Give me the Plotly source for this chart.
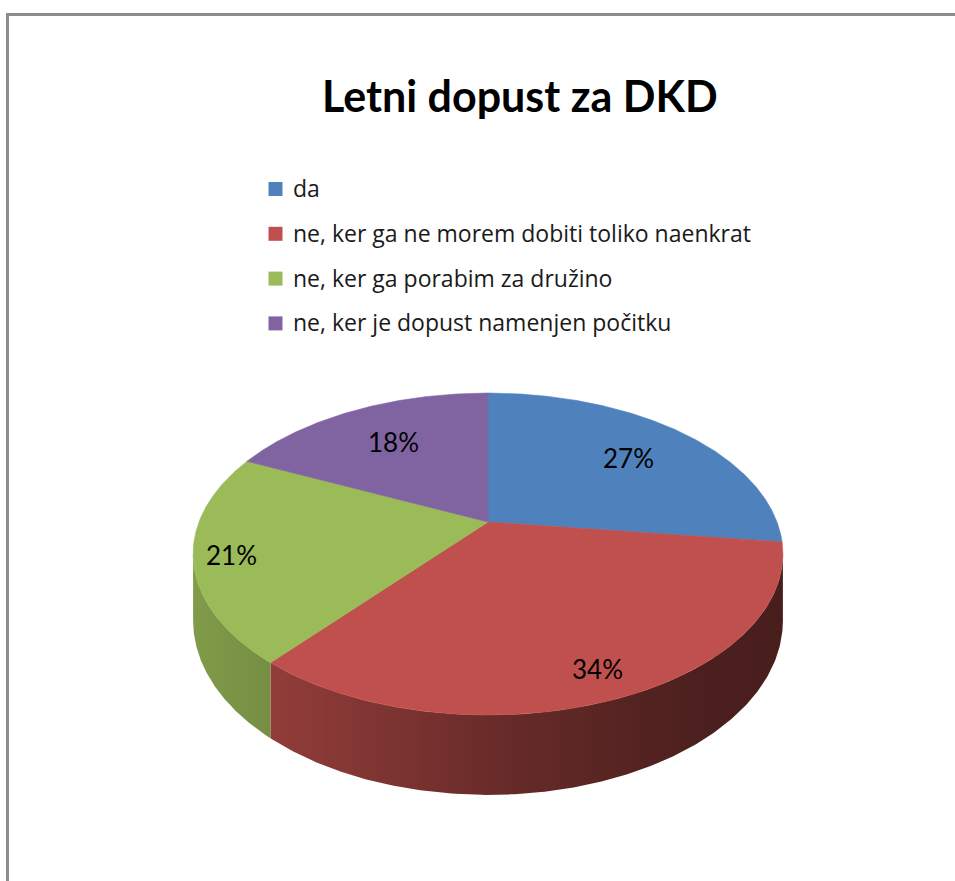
import numpy as np
import plotly.graph_objects as go

# ---------------- data ----------------
TITLE = "Letni dopust za DKD"
CATEGORIES = [
    "da",
    "ne, ker ga ne morem dobiti toliko naenkrat",
    "ne, ker ga porabim za družino",
    "ne, ker je dopust namenjen počitku",
]
VALUES = [27, 34, 21, 18]
COLORS = ["#4F81BD", "#C0504D", "#9BBB59", "#8064A2"]

# ---------------- geometry / style ----------------
W, H = 955, 881
CX, CY = 488, 522          # pie apex (pixels)
SX, SY = 289, 154.6        # projected radii
K = 0.199                  # perspective factor
DEPTH = 64                 # extrusion depth
LABEL_R = [0.70, 0.85, 0.88, 0.70]
LABEL_FONT = "Lato, Roboto, sans-serif"
TITLE_FONT = "Lato, Roboto, sans-serif"
LEG_FONT = "Open Sans, Noto Sans, sans-serif"


def project(theta, f=1.0, dz=0.0):
    u = f * np.sin(theta)
    v = f * np.cos(theta)
    w = 1 + K * v
    return CX + SX * u / w, CY - SY * v / w + dz / w


def shade(hex_color, t_factors):
    r, g, b = (int(hex_color[i:i + 2], 16) for i in (1, 3, 5))
    return [[t, f"rgb({int(r*fc)},{int(g*fc)},{int(b*fc)})"] for t, fc in t_factors]


SHADE = [(0.0, 0.83), (0.15, 0.75), (0.55, 0.53), (0.85, 0.40), (1.0, 0.38)]

fig = go.Figure()

total = float(sum(VALUES))
bounds = np.concatenate([[0], np.cumsum(VALUES) / total]) * 2 * np.pi

# visible front rim interval
th_lo = np.arccos(-K)
th_hi = 2 * np.pi - np.arccos(-K)
x_left = project(th_hi)[0]
x_right = project(th_lo)[0]

# sides
for i, val in enumerate(VALUES):
    a, b = max(bounds[i], th_lo), min(bounds[i + 1], th_hi)
    if b <= a:
        continue
    th = np.linspace(a, b, 200)
    tx, ty = project(th)
    bx, by = project(th, dz=DEPTH)
    xs = np.concatenate([tx, bx[::-1], tx[:1]])
    ys = np.concatenate([ty, by[::-1], ty[:1]])
    fig.add_trace(go.Scatter(
        x=xs, y=ys, mode="lines", fill="toself",
        line=dict(width=0),
        fillgradient=dict(type="horizontal", start=x_left, stop=x_right,
                          colorscale=shade(COLORS[i], SHADE)),
        hoverinfo="skip", showlegend=False))

# top faces
for i, val in enumerate(VALUES):
    th = np.linspace(bounds[i], bounds[i + 1], 300)
    tx, ty = project(th)
    xs = np.concatenate([[CX], tx, [CX]])
    ys = np.concatenate([[CY], ty, [CY]])
    fig.add_trace(go.Scatter(
        x=xs, y=ys, mode="lines", fill="toself",
        fillcolor=COLORS[i], line=dict(width=0.6, color=COLORS[i]),
        hoverinfo="skip", showlegend=False))

# data labels
for i, val in enumerate(VALUES):
    mid = (bounds[i] + bounds[i + 1]) / 2
    lx, ly = project(mid, f=LABEL_R[i])
    fig.add_annotation(x=lx + 2, y=ly + 2, xref="x", yref="y", text=f"{val}%",
                       showarrow=False, xanchor="center", yanchor="middle",
                       font=dict(family=LABEL_FONT, size=26, color="#000000"))

# legend (manual)
LEG_X, LEG_Y0, LEG_DY = 275.5, 189, 44.8
fig.add_trace(go.Scatter(
    x=[LEG_X] * len(CATEGORIES),
    y=[LEG_Y0 + LEG_DY * i for i in range(len(CATEGORIES))],
    mode="markers",
    marker=dict(symbol="square", size=14, color=COLORS, line=dict(width=0)),
    hoverinfo="skip", showlegend=False))
for i, cat in enumerate(CATEGORIES):
    fig.add_annotation(x=291, y=LEG_Y0 + LEG_DY * i - 1, xref="x", yref="y",
                       text=cat, showarrow=False, xanchor="left",
                       yanchor="middle",
                       font=dict(family=LEG_FONT, size=23, color="#1a1a1a"))

# title
fig.add_annotation(x=520, y=95, xref="x", yref="y", text=TITLE,
                   showarrow=False, xanchor="center", yanchor="middle",
                   font=dict(family=TITLE_FONT, size=43, color="#000000",
                             weight="bold"))

# chart border (only left and top edges fall inside the picture)
BORDER = dict(color="#8c8c8c", width=3)
fig.add_shape(type="line", xref="x", yref="y", x0=7.5, y0=13, x1=7.5,
              y1=H + 5, line=BORDER)
fig.add_shape(type="line", xref="x", yref="y", x0=6, y0=14.5, x1=W + 5,
              y1=14.5, line=BORDER)

fig.update_xaxes(range=[0, W], visible=False, fixedrange=True)
fig.update_yaxes(range=[H, 0], visible=False, fixedrange=True)
fig.update_layout(width=W, height=H, margin=dict(l=0, r=0, t=0, b=0),
                  paper_bgcolor="white", plot_bgcolor="white",
                  showlegend=False)

fig.write_html(
    "out.html",
    config={"displayModeBar": False},
    post_script="document.body.style.margin='0';"
                "document.body.style.overflow='hidden';",
)
